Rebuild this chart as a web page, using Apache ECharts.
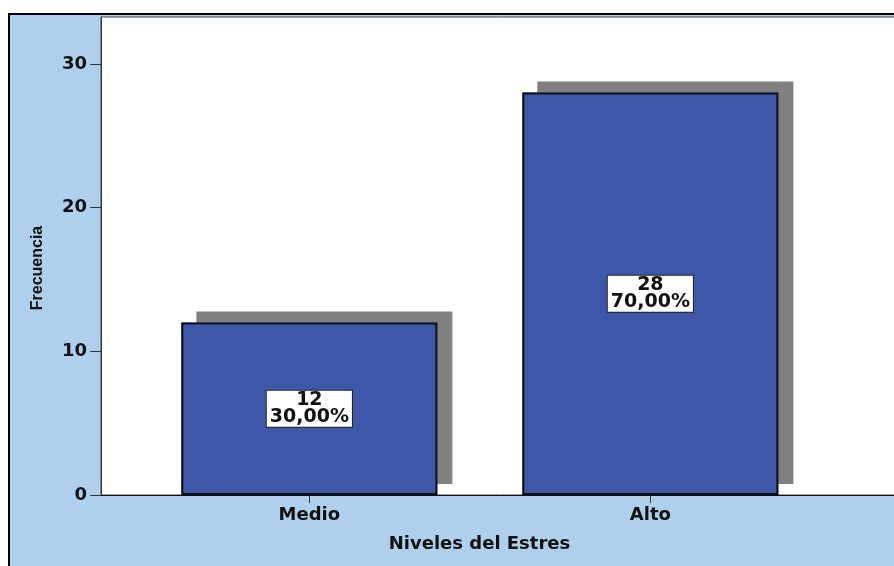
<!DOCTYPE html>
<html><head><meta charset="utf-8">
<script src="https://cdn.jsdelivr.net/npm/echarts@6/dist/echarts.min.js"></script>
<style>
html,body{margin:0;padding:0;background:#fff;width:894px;height:566px;overflow:hidden;}
#frame{position:absolute;left:8px;top:13px;width:900px;height:560px;background:#AFD0EC;border-left:2px solid #000;border-top:2px solid #000;}
#main{position:absolute;left:0;top:0;width:904px;height:566px;}
</style></head><body>
<div id="frame"></div><div id="main"></div>
<script>
const categories = ['Medio', 'Alto'];
const frequencies = [12, 28];
const percentages = ['30,00%', '70,00%'];
const yTicks = [0, 10, 20, 30];
const xPositions = [1, 2];

const chart = echarts.init(document.getElementById('main'), null, {renderer: 'canvas'});
const FONT = 'DejaVu Sans';
const barData = xPositions.map((x, i) => [x, frequencies[i]]);
// grid spans x 101 .. 900 ; categories at 309 and 650 (341 px apart)
chart.setOption({
  animation: false,
  backgroundColor: 'transparent',
  grid: {left: 101, top: 17, right: 4, bottom: 71, show: true, backgroundColor: '#fff', borderColor: '#444', borderWidth: 1},
  xAxis: {
    type: 'value', min: 0.389, max: 0.389 + 799 / 341,
    name: 'Niveles del Estres', nameLocation: 'middle', nameGap: 40,
    nameTextStyle: {fontFamily: FONT, fontWeight: 'bold', fontSize: 18, color: '#111', padding: [0, 42, 0, 0]},
    axisLine: {show: true, lineStyle: {color: '#111', width: 1}},
    axisTick: {show: true, customValues: xPositions, length: 8, lineStyle: {color: '#333'}},
    axisLabel: {customValues: xPositions, margin: 11, fontFamily: FONT, fontWeight: 'bold', fontSize: 18, color: '#111',
      formatter: v => categories[Math.round(v) - 1]},
    splitLine: {show: false}
  },
  yAxis: {
    type: 'value', min: 0, max: 33.26,
    name: 'Frecuencia', nameLocation: 'middle', nameGap: 55,
    nameTextStyle: {fontFamily: 'Liberation Sans', fontWeight: 'bold', fontSize: 16, color: '#111', padding: [0, 24, 0, 0]},
    axisLine: {show: true, lineStyle: {color: '#333', width: 1}},
    axisTick: {show: true, customValues: yTicks, length: 11, lineStyle: {color: '#333'}},
    axisLabel: {customValues: yTicks, margin: 14, fontFamily: FONT, fontWeight: 'bold', fontSize: 18, color: '#111'},
    splitLine: {show: false}
  },
  series: [{
    type: 'bar',
    barWidth: 256,
    barGap: '-100%',
    data: barData,
    itemStyle: {color: '#3D57A9', borderWidth: 0,
      shadowColor: '#808080', shadowBlur: 0, shadowOffsetX: 15, shadowOffsetY: -11}
  }, {
    type: 'bar',
    barWidth: 256,
    barGap: '-100%',
    data: barData,
    itemStyle: {color: '#3D57A9', borderColor: '#111', borderWidth: 2},
    label: {
      show: true, position: 'inside',
      formatter: p => frequencies[p.dataIndex] + '\n' + percentages[p.dataIndex],
      fontFamily: FONT, fontWeight: 'bold', fontSize: 19, lineHeight: 17, color: '#111',
      backgroundColor: '#fff', borderColor: '#222', borderWidth: 1, padding: [1, 3]
    }
  }]
});
</script></body></html>
